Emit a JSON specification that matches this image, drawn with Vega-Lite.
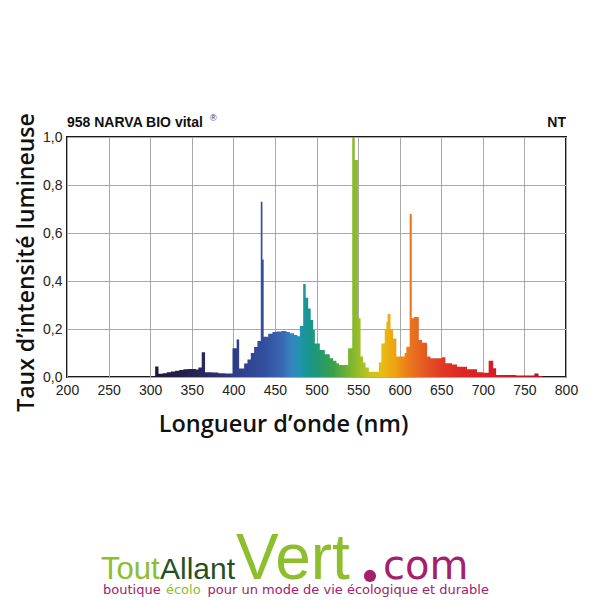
{
  "$schema": "https://vega.github.io/schema/vega-lite/v6.json",
  "width": 499,
  "height": 240,
  "autosize": {"type": "none"},
  "padding": {"left": 67, "top": 137, "right": 34, "bottom": 223},
  "background": "white",
  "config": {
    "view": {"stroke": "#1a1a1a", "strokeWidth": 2},
    "font": "Liberation Sans"
  },
  "datasets": {
    "spectrum": [
      {"nm": 200, "intensity": 0},
      {"nm": 305, "intensity": 0},
      {"nm": 306, "intensity": 0.044},
      {"nm": 310, "intensity": 0.014},
      {"nm": 315, "intensity": 0.016},
      {"nm": 320, "intensity": 0.02},
      {"nm": 325, "intensity": 0.023},
      {"nm": 330, "intensity": 0.026},
      {"nm": 335, "intensity": 0.029},
      {"nm": 340, "intensity": 0.032},
      {"nm": 345, "intensity": 0.033},
      {"nm": 350, "intensity": 0.033},
      {"nm": 355, "intensity": 0.031},
      {"nm": 358, "intensity": 0.04},
      {"nm": 362, "intensity": 0.103},
      {"nm": 366, "intensity": 0.02},
      {"nm": 375, "intensity": 0.019},
      {"nm": 382, "intensity": 0.016},
      {"nm": 390, "intensity": 0.015},
      {"nm": 399, "intensity": 0.12},
      {"nm": 404, "intensity": 0.156},
      {"nm": 407, "intensity": 0.035},
      {"nm": 413, "intensity": 0.056},
      {"nm": 417, "intensity": 0.073},
      {"nm": 421, "intensity": 0.1},
      {"nm": 425, "intensity": 0.125},
      {"nm": 429, "intensity": 0.15},
      {"nm": 433, "intensity": 0.73},
      {"nm": 435, "intensity": 0.49},
      {"nm": 436.5, "intensity": 0.168},
      {"nm": 442, "intensity": 0.18},
      {"nm": 447, "intensity": 0.187},
      {"nm": 452, "intensity": 0.19},
      {"nm": 458, "intensity": 0.192},
      {"nm": 464, "intensity": 0.188},
      {"nm": 468, "intensity": 0.182},
      {"nm": 473, "intensity": 0.175},
      {"nm": 477, "intensity": 0.17},
      {"nm": 480, "intensity": 0.213},
      {"nm": 484, "intensity": 0.388},
      {"nm": 487, "intensity": 0.33},
      {"nm": 490, "intensity": 0.285},
      {"nm": 493, "intensity": 0.237},
      {"nm": 496, "intensity": 0.196},
      {"nm": 498, "intensity": 0.14},
      {"nm": 504, "intensity": 0.113},
      {"nm": 510, "intensity": 0.095},
      {"nm": 516, "intensity": 0.078},
      {"nm": 520, "intensity": 0.068},
      {"nm": 524, "intensity": 0.057},
      {"nm": 527, "intensity": 0.05},
      {"nm": 538, "intensity": 0.12},
      {"nm": 543, "intensity": 1.0},
      {"nm": 546, "intensity": 0.904},
      {"nm": 550, "intensity": 0.245},
      {"nm": 553, "intensity": 0.085},
      {"nm": 556, "intensity": 0.06},
      {"nm": 559, "intensity": 0.04},
      {"nm": 563, "intensity": 0.022},
      {"nm": 575, "intensity": 0.06},
      {"nm": 578, "intensity": 0.14},
      {"nm": 582, "intensity": 0.2},
      {"nm": 584, "intensity": 0.23},
      {"nm": 585.5, "intensity": 0.263},
      {"nm": 589, "intensity": 0.196},
      {"nm": 592, "intensity": 0.16},
      {"nm": 596, "intensity": 0.085},
      {"nm": 600, "intensity": 0.085},
      {"nm": 606, "intensity": 0.1},
      {"nm": 608, "intensity": 0.126},
      {"nm": 612, "intensity": 0.679},
      {"nm": 614.5, "intensity": 0.245},
      {"nm": 617, "intensity": 0.25},
      {"nm": 623, "intensity": 0.154},
      {"nm": 627, "intensity": 0.143},
      {"nm": 633, "intensity": 0.085},
      {"nm": 637, "intensity": 0.078},
      {"nm": 651, "intensity": 0.082},
      {"nm": 655, "intensity": 0.057},
      {"nm": 663, "intensity": 0.052},
      {"nm": 669, "intensity": 0.043},
      {"nm": 681, "intensity": 0.032},
      {"nm": 693, "intensity": 0.02},
      {"nm": 700, "intensity": 0.018},
      {"nm": 707, "intensity": 0.068},
      {"nm": 712.5, "intensity": 0.036},
      {"nm": 716, "intensity": 0.008},
      {"nm": 740, "intensity": 0.006},
      {"nm": 762, "intensity": 0.015},
      {"nm": 767, "intensity": 0.004},
      {"nm": 772, "intensity": 0},
      {"nm": 800, "intensity": 0}
    ]
  },
  "layer": [
    {
      "data": {"name": "spectrum"},
      "mark": {
        "type": "area",
        "interpolate": "step-after",
        "color": {
          "gradient": "linear",
          "x1": 0, "x2": 1, "y1": 0, "y2": 0,
          "stops": [
            {"offset": 0.0, "color": "#1a1636"},
            {"offset": 0.1667, "color": "#1c1838"},
            {"offset": 0.2333, "color": "#231f4a"},
            {"offset": 0.3, "color": "#2c2f70"},
            {"offset": 0.35, "color": "#30408f"},
            {"offset": 0.4, "color": "#3450a0"},
            {"offset": 0.4333, "color": "#3a6ab4"},
            {"offset": 0.45, "color": "#3586c0"},
            {"offset": 0.4667, "color": "#1f94b0"},
            {"offset": 0.4833, "color": "#17958f"},
            {"offset": 0.5083, "color": "#259a6c"},
            {"offset": 0.5333, "color": "#3aa048"},
            {"offset": 0.5667, "color": "#7ab430"},
            {"offset": 0.5833, "color": "#96be28"},
            {"offset": 0.6083, "color": "#c8c41e"},
            {"offset": 0.6333, "color": "#e8bc14"},
            {"offset": 0.6583, "color": "#f0a010"},
            {"offset": 0.6833, "color": "#ec7a1c"},
            {"offset": 0.7167, "color": "#e45a22"},
            {"offset": 0.75, "color": "#e03a24"},
            {"offset": 0.8, "color": "#dc2424"},
            {"offset": 0.8667, "color": "#d41c28"},
            {"offset": 0.95, "color": "#a8142a"},
            {"offset": 1.0, "color": "#a8142a"}
          ]
        }
      },
      "encoding": {
        "x": {
          "field": "nm",
          "type": "quantitative",
          "scale": {"domain": [200, 800], "nice": false, "zero": false},
          "axis": {
            "values": [200, 250, 300, 350, 400, 450, 500, 550, 600, 650, 700, 750, 800],
            "grid": true,
            "gridColor": "#a8a8a8",
            "gridWidth": 1,
            "domain": false,
            "ticks": false,
            "labelFont": "Liberation Sans",
            "labelFontSize": 14,
            "labelColor": "#222222",
            "labelPadding": 6,
            "labelFlush": false,
            "title": "Longueur d’onde (nm)",
            "titleFont": "Open Sans",
            "titleFontWeight": 600,
            "titleFontSize": 23.5,
            "titleColor": "#111111",
            "titleX": 216,
            "titleY": 54,
            "titleAlign": "center",
            "titleBaseline": "alphabetic"
          }
        },
        "y": {
          "field": "intensity",
          "type": "quantitative",
          "scale": {"domain": [0, 1], "nice": false},
          "axis": {
            "values": [0, 0.2, 0.4, 0.6, 0.8, 1.0],
            "labelExpr": "replace(format(datum.value, '.1f'), '.', ',')",
            "grid": true,
            "gridColor": "#a8a8a8",
            "gridWidth": 1,
            "domain": false,
            "ticks": false,
            "labelFont": "Liberation Sans",
            "labelFontSize": 14,
            "labelColor": "#222222",
            "labelPadding": 5,
            "labelFlush": false,
            "title": "Taux d’intensité lumineuse",
            "titleFont": "Open Sans",
            "titleFontWeight": 600,
            "titleFontSize": 23,
            "titleColor": "#111111",
            "titleAngle": 270,
            "titleX": -34,
            "titleY": 125,
            "titleAlign": "center",
            "titleBaseline": "alphabetic"
          }
        }
      }
    },
    {
      "data": {"values": [{}]},
      "mark": {"type": "text", "text": "958 NARVA BIO vital", "align": "left", "baseline": "alphabetic", "dy": -10, "font": "Liberation Sans", "fontWeight": "bold", "fontSize": 14, "color": "#111111"},
      "encoding": {"x": {"datum": 200, "type": "quantitative"}, "y": {"datum": 1, "type": "quantitative"}}
    },
    {
      "data": {"values": [{}]},
      "mark": {"type": "text", "text": "®", "align": "left", "baseline": "alphabetic", "dy": -16, "font": "Liberation Sans", "fontSize": 9, "color": "#333333"},
      "encoding": {"x": {"datum": 372, "type": "quantitative"}, "y": {"datum": 1, "type": "quantitative"}}
    },
    {
      "data": {"values": [{}]},
      "mark": {"type": "text", "text": "NT", "align": "right", "baseline": "alphabetic", "dy": -10, "font": "Liberation Sans", "fontWeight": "bold", "fontSize": 14, "color": "#111111"},
      "encoding": {"x": {"datum": 800, "type": "quantitative"}, "y": {"datum": 1, "type": "quantitative"}}
    },
    {
      "data": {"values": [{}]},
      "mark": {"type": "text", "text": "Tout", "align": "left", "baseline": "alphabetic", "font": "Liberation Sans Narrow, Liberation Sans", "fontSize": 31, "color": "#8cbe2e"},
      "encoding": {"x": {"datum": 240.9, "type": "quantitative"}, "y": {"datum": -0.8417, "type": "quantitative"}}
    },
    {
      "data": {"values": [{}]},
      "mark": {"type": "text", "text": "Allant", "align": "left", "baseline": "alphabetic", "font": "Liberation Sans Narrow, Liberation Sans", "fontSize": 30, "color": "#255020"},
      "encoding": {"x": {"datum": 311.8, "type": "quantitative"}, "y": {"datum": -0.8417, "type": "quantitative"}}
    },
    {
      "data": {"values": [{}]},
      "mark": {"type": "text", "text": "Vert", "align": "left", "baseline": "alphabetic", "font": "Liberation Sans", "fontSize": 64, "color": "#8cbe2e"},
      "encoding": {"x": {"datum": 403.2, "type": "quantitative"}, "y": {"datum": -0.8417, "type": "quantitative"}}
    },
    {
      "data": {"values": [{}]},
      "mark": {"type": "point", "shape": "circle", "filled": true, "size": 150, "opacity": 1, "color": "#a3206e"},
      "encoding": {"x": {"datum": 564.3, "type": "quantitative"}, "y": {"datum": -0.829, "type": "quantitative"}}
    },
    {
      "data": {"values": [{}]},
      "mark": {"type": "text", "text": "com", "align": "left", "baseline": "alphabetic", "font": "DejaVu Sans", "fontSize": 40, "color": "#a3206e"},
      "encoding": {"x": {"datum": 580, "type": "quantitative"}, "y": {"datum": -0.8417, "type": "quantitative"}}
    },
    {
      "data": {"values": [{}]},
      "mark": {"type": "text", "text": "boutique", "align": "left", "baseline": "alphabetic", "font": "DejaVu Sans", "fontSize": 13, "color": "#a3206e"},
      "encoding": {"x": {"datum": 243.3, "type": "quantitative"}, "y": {"datum": -0.904, "type": "quantitative"}}
    },
    {
      "data": {"values": [{}]},
      "mark": {"type": "text", "text": "écolo", "align": "left", "baseline": "alphabetic", "font": "DejaVu Sans", "fontSize": 13, "color": "#8cbe2e"},
      "encoding": {"x": {"datum": 319, "type": "quantitative"}, "y": {"datum": -0.904, "type": "quantitative"}}
    },
    {
      "data": {"values": [{}]},
      "mark": {"type": "text", "text": "pour un mode de vie écologique et durable", "align": "left", "baseline": "alphabetic", "font": "DejaVu Sans", "fontSize": 13, "color": "#a3206e"},
      "encoding": {"x": {"datum": 369, "type": "quantitative"}, "y": {"datum": -0.904, "type": "quantitative"}}
    }
  ]
}
